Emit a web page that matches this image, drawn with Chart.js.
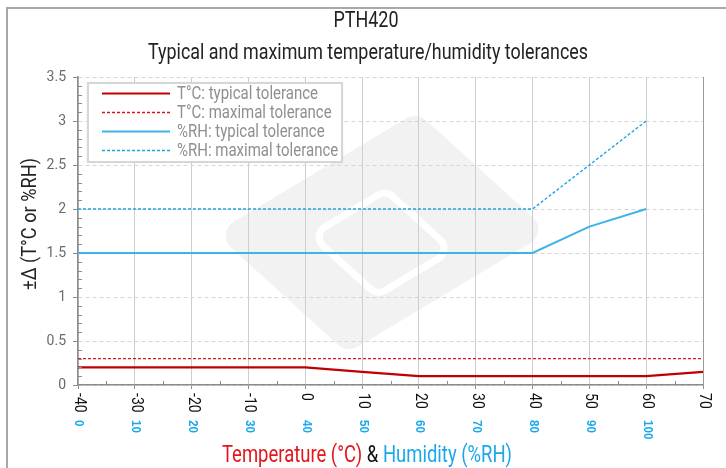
<!DOCTYPE html>
<html>
<head>
<meta charset="utf-8">
<script src="https://cdn.jsdelivr.net/npm/chart.js@4.4.0/dist/chart.umd.min.js"></script>
<style>
  html, body { margin: 0; padding: 0; background: #fff; }
</style>
</head>
<body>
<canvas id="chart" width="726" height="468"></canvas>
<script>
const temps = [-40, -30, -20, -10, 0, 10, 20, 30, 40, 50, 60, 70];
const humidity = [0, 10, 20, 30, 40, 50, 60, 70, 80, 90, 100];

const tTypical = [0.2, 0.2, 0.2, 0.2, 0.2, 0.15, 0.1, 0.1, 0.1, 0.1, 0.1, 0.15];
const tMaximal = [0.3, 0.3, 0.3, 0.3, 0.3, 0.3, 0.3, 0.3, 0.3, 0.3, 0.3, 0.3];
const rhTypical = [1.5, 1.5, 1.5, 1.5, 1.5, 1.5, 1.5, 1.5, 1.5, 1.8, 2.0];
const rhMaximal = [2.0, 2.0, 2.0, 2.0, 2.0, 2.0, 2.0, 2.0, 2.0, 2.5, 3.0];

const seriesNames = [
    "T°C: typical tolerance",
    "T°C: maximal tolerance",
    "%RH: typical tolerance",
    "%RH: maximal tolerance"
];

const title = "PTH420";
const subtitle = "Typical and maximum temperature/humidity tolerances";
const yTitle = "±Δ (T°C or %RH)";

const FONT = "Roboto, 'Liberation Sans', sans-serif";

// humidity is plotted on the temperature axis: 0 %RH sits at -40 °C
const rhX = humidity.map(h => h - 40);
const toPoints = (xv, yv) => xv.map((x, i) => ({ x: x, y: yv[i] }));

/* ================= DECORATION ================= */

function roundPoly(ctx, pts, r) {
    const n = pts.length;
    const a = pts[n - 1], b = pts[0];
    ctx.beginPath();
    ctx.moveTo((a[0] + b[0]) / 2, (a[1] + b[1]) / 2);
    for (let i = 0; i < n; i++) {
        const p = pts[i], q = pts[(i + 1) % n];
        ctx.arcTo(p[0], p[1], q[0], q[1], r);
    }
    ctx.closePath();
}

function drawWatermark(ctx) {
    const L = [215, 233], u = [132, 120], v = [202, -121];
    const at = (a, b) => [L[0] + a * u[0] + b * v[0], L[1] + a * u[1] + b * v[1]];
    roundPoly(ctx, [at(0, 0), at(0, 1), at(1, 1), at(1, 0)], 16);
    ctx.fillStyle = "#f2f2f2";
    ctx.fill();
    ctx.strokeStyle = "#ffffff";
    ctx.lineWidth = 7;
    roundPoly(ctx, [at(0.3, 0.28), at(0.3, 0.65), at(0.8, 0.65), at(0.8, 0.28)], 12);
    ctx.stroke();
}

// the original uses a condensed face; squeeze text to its measured width
function fitScale(ctx, text, width) {
    return width / ctx.measureText(text).width;
}
function squeezed(ctx, text, x, y, sx, align) {
    ctx.save();
    ctx.translate(x, y);
    ctx.scale(sx, 1);
    ctx.textAlign = align || "left";
    ctx.fillText(text, 0, 0);
    ctx.restore();
}

const decor = {
    id: "decor",
    beforeDraw(chart) {
        const ctx = chart.ctx;
        ctx.save();
        ctx.fillStyle = "#fff";
        ctx.fillRect(0, 0, chart.width, chart.height);

        ctx.strokeStyle = "#a8a8a8";
        ctx.lineWidth = 2;
        ctx.beginPath();
        ctx.moveTo(7, chart.height);
        ctx.lineTo(7, 8);
        ctx.lineTo(chart.width, 8);
        ctx.stroke();

        drawWatermark(ctx);
        ctx.restore();
    },
    afterDraw(chart) {
        const ctx = chart.ctx;
        const xs = chart.scales.x, ys = chart.scales.y;
        ctx.save();

        // minor ticks
        ctx.strokeStyle = "#8c8c8c";
        ctx.lineWidth = 1;
        ctx.beginPath();
        for (let t = -35; t < 70; t += 10) {
            const px = Math.round(xs.getPixelForValue(t)) + 0.5;
            ctx.moveTo(px, ys.bottom - 4);
            ctx.lineTo(px, ys.bottom);
        }
        for (let k = 1; k < 35; k++) {
            if (k % 5 === 0) continue;
            const py = Math.round(ys.getPixelForValue(k / 10)) + 0.5;
            ctx.moveTo(xs.left, py);
            ctx.lineTo(xs.left + 4, py);
        }
        ctx.stroke();

        // titles
        ctx.fillStyle = "#222";
        ctx.textBaseline = "middle";
        ctx.font = `22px ${FONT}`;
        squeezed(ctx, title, 366, 21, fitScale(ctx, title, 65), "center");
        squeezed(ctx, subtitle, 368, 53, fitScale(ctx, subtitle, 440), "center");

        // y title
        ctx.save();
        ctx.translate(31, 224);
        ctx.rotate(-Math.PI / 2);
        ctx.font = `20px ${FONT}`;
        squeezed(ctx, yTitle, 0, 0, fitScale(ctx, yTitle, 132), "center");
        ctx.restore();

        // x tick labels: temperature then humidity
        temps.forEach(t => {
            ctx.save();
            ctx.translate(xs.getPixelForValue(t) + 1, 393);
            ctx.rotate(Math.PI / 2);
            ctx.textAlign = "left";
            ctx.fillStyle = "#111";
            ctx.font = `16px ${FONT}`;
            ctx.scale(0.88, 1);
            ctx.fillText(String(t), 0, 0);
            ctx.restore();
        });
        humidity.forEach((h, i) => {
            ctx.save();
            ctx.translate(xs.getPixelForValue(rhX[i]) + 1, 420);
            ctx.rotate(Math.PI / 2);
            ctx.textAlign = "left";
            ctx.fillStyle = "#1aa8ea";
            ctx.font = "bold 13px 'Liberation Sans', Arial, sans-serif";
            ctx.scale(0.9, 1);
            ctx.fillText(String(h), 0, 0);
            ctx.restore();
        });

        // x title in three colours
        const parts = [
            ["Temperature (°C)", "#e3161b"],
            [" & ", "#111"],
            ["Humidity (%RH)", "#1aa8ea"]
        ];
        ctx.font = `23px ${FONT}`;
        const sx = fitScale(ctx, parts.map(p => p[0]).join(""), 290);
        const total = parts.reduce((s, p) => s + ctx.measureText(p[0]).width * sx, 0);
        let x = 367 - total / 2;
        parts.forEach(p => {
            ctx.fillStyle = p[1];
            squeezed(ctx, p[0], x, 456, sx, "left");
            x += ctx.measureText(p[0]).width * sx;
        });

        // legend
        ctx.shadowColor = "rgba(0,0,0,0.12)";
        ctx.shadowBlur = 3;
        ctx.fillStyle = "#fff";
        ctx.fillRect(88, 83, 254, 79);
        ctx.shadowBlur = 0;
        ctx.strokeStyle = "#d6d6d6";
        ctx.lineWidth = 2;
        ctx.strokeRect(88, 83, 254, 79);
        ctx.font = `19px ${FONT}`;
        const lsx = fitScale(ctx, seriesNames[0], 141);
        chart.data.datasets.forEach((ds, i) => {
            const y = Math.round(93 + i * 19) + 0.5;
            ctx.strokeStyle = ds.borderColor;
            ctx.lineWidth = ds.borderWidth;
            ctx.setLineDash(ds.borderDash || []);
            ctx.beginPath();
            ctx.moveTo(102, y);
            ctx.lineTo(170, y);
            ctx.stroke();
            ctx.setLineDash([]);
            ctx.fillStyle = "#8f8f8f";
            squeezed(ctx, ds.label, 177, y + 1, lsx, "left");
        });

        ctx.restore();
    }
};

/* ================= CHART ================= */

new Chart(document.getElementById("chart"), {
    type: "line",
    data: {
        datasets: [
            {
                label: seriesNames[0],
                data: toPoints(temps, tTypical),
                borderColor: "#c00000",
                borderWidth: 2.2
            },
            {
                label: seriesNames[1],
                data: toPoints(temps, tMaximal),
                borderColor: "#d9141b",
                borderWidth: 1.4,
                borderDash: [3, 2]
            },
            {
                label: seriesNames[2],
                data: toPoints(rhX, rhTypical),
                borderColor: "#3cb4ea",
                borderWidth: 2
            },
            {
                label: seriesNames[3],
                data: toPoints(rhX, rhMaximal),
                borderColor: "#1aa6e6",
                borderWidth: 1.4,
                borderDash: [3, 2]
            }
        ]
    },
    options: {
        responsive: false,
        animation: false,
        elements: {
            point: { radius: 0 },
            line: { tension: 0 }
        },
        layout: { padding: { top: 77, right: 23, bottom: 0, left: 0 } },
        plugins: {
            legend: { display: false },
            title: { display: false },
            tooltip: { enabled: false }
        },
        scales: {
            x: {
                type: "linear",
                min: -40,
                max: 70,
                ticks: { stepSize: 10, display: false },
                grid: {
                    color: c => c.tick && c.tick.value === 70 ? "#9c9c9c" : "#cdcdcd",
                    tickColor: "#8c8c8c",
                    tickLength: 4
                },
                border: { color: "#8c8c8c", width: 1.5 },
                afterFit: s => { s.height = 83; }
            },
            y: {
                min: 0,
                max: 3.5,
                ticks: {
                    stepSize: 0.5,
                    color: "#6b6b6b",
                    padding: 7,
                    font: { family: FONT, size: 14 },
                    callback: v => String(v)
                },
                grid: {
                    color: "#d6d6d6",
                    tickColor: "#8c8c8c",
                    tickLength: 5
                },
                border: { color: "#8c8c8c", width: 1.5, dash: [4, 3] },
                afterFit: s => { s.width = 78; }
            }
        }
    },
    plugins: [decor]
});
</script>
</body>
</html>
